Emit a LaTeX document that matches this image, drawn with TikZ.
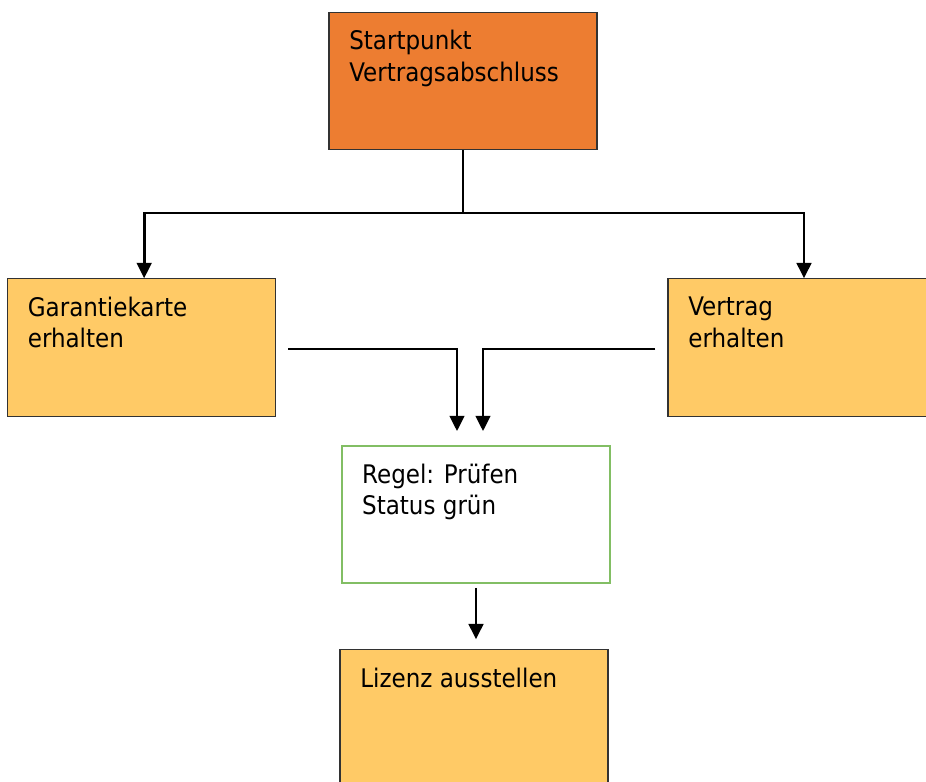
\documentclass[tikz,border=0pt]{standalone}
\usepackage{fontspec}
\setmainfont{DejaVu Sans Condensed}
\usetikzlibrary{arrows.meta, positioning}
\definecolor{startorange}{RGB}{237, 125, 49}
\definecolor{stepyellow}{RGB}{255, 202, 102}
\definecolor{rulegreen}{RGB}{130, 190, 100}
\definecolor{boxborder}{RGB}{50, 50, 50}
\tikzset{
    % Generic process box
    flowbox/.style={
        draw=boxborder, line width=0.9pt,
        minimum width=201pt,
        minimum height=103pt,
        inner sep=0pt,
    },
    % Start box
    startbox/.style={
        flowbox,
        fill=startorange,
    },
    % Step box
    stepbox/.style={
        flowbox,
        fill=stepyellow,
    },
    % Rule box
    rulebox/.style={
        flowbox,
        draw=rulegreen, line width=1.1pt,
        fill=white,
    },
    % Text in the upper left corner of a box
    boxtext/.style={
        font=\fontsize{19.2}{23.6}\selectfont,
        align=left,
        inner sep=0pt,
        anchor=north west,
        xshift=15.5pt, yshift=-13.8pt,
    },
    % Flow arrow
    flowarrow/.style={
        -{Triangle[length=11.5pt, width=11pt]},
        line width=2pt,
    },
}

\begin{document}
\begin{tikzpicture}[x=0.75pt, y=-0.75pt]

\useasboundingbox (0,0) rectangle (926,782);
\clip (0,0) rectangle (926,782);

% --- Start ---
\node[startbox, label={[boxtext]north west:{Startpunkt\\Vertragsabschluss}}] (start) at (463,81) {};

% --- Inputs ---
\node[stepbox, label={[boxtext]north west:{Garantiekarte\\erhalten}}] (garantie) at (141.5,347.5) {};
\node[stepbox, label={[boxtext]north west:{Vertrag\\erhalten}}] (vertrag) at (802,347.5) {};

% --- Rule ---
\node[rulebox, label={[boxtext]north west:{Regel: Prüfen\\Status grün}}] (regel) at (476,514.5) {};

% --- Result ---
\node[stepbox, label={[boxtext]north west:{Lizenz ausstellen}}] (lizenz) at (474,718.5) {};

% =========================================================================
% ARROWS
% =========================================================================
\coordinate (split) at (463,213);
\draw[flowarrow] (start.south) -- (split) -| ([xshift=2pt]garantie.north);
\draw[flowarrow] (split) -| ([xshift=1.5pt]vertrag.north);

\draw[flowarrow, shorten <=9pt, shorten >=10.5pt] ([yshift=-1pt]garantie.east) -| ([xshift=-14.25pt]regel.north);
\draw[flowarrow, shorten <=9pt, shorten >=10.5pt] ([yshift=-1pt]vertrag.west) -| ([xshift=5.25pt]regel.north);

\draw[flowarrow, shorten <=3pt, shorten >=7.5pt] (regel.south) -- (regel.south |- lizenz.north);

\end{tikzpicture}
\end{document}
